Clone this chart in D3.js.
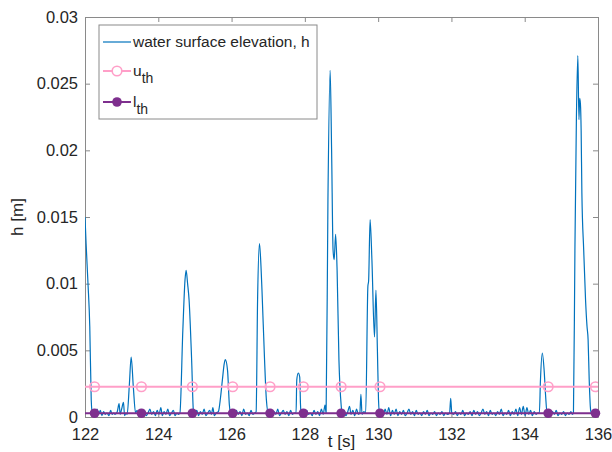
<!DOCTYPE html>
<html>
<head>
<meta charset="utf-8">
<script src="https://cdn.jsdelivr.net/npm/d3@7"></script>
<style>
  body { margin: 0; background: #fff; }
  text { font-family: Arial, "Liberation Sans", sans-serif; fill: #262626; }
</style>
</head>
<body>
<div id="chart"></div>
<script>
// water surface elevation h(t)
const timeS = [
  122.00, 122.03, 122.08, 122.13, 122.17, 122.20, 122.25, 122.29, 122.33, 122.37,
  122.42, 122.46, 122.51, 122.55, 122.60, 122.65, 122.70, 122.74, 122.78, 122.82,
  122.88, 122.93, 122.96, 123.00, 123.05, 123.08, 123.12, 123.15, 123.21, 123.26,
  123.32, 123.38, 123.42, 123.47, 123.52, 123.57, 123.62, 123.67, 123.72, 123.77,
  123.82, 123.87, 123.92, 123.97, 124.02, 124.07, 124.11, 124.16, 124.21, 124.26,
  124.31, 124.36, 124.41, 124.46, 124.51, 124.55, 124.59, 124.67, 124.73, 124.76,
  124.80, 124.84, 124.91, 124.96, 125.00, 125.05, 125.10, 125.15, 125.20, 125.25,
  125.30, 125.35, 125.40, 125.45, 125.49, 125.53, 125.58, 125.64, 125.70, 125.75,
  125.80, 125.83, 125.89, 125.94, 125.98, 126.03, 126.08, 126.13, 126.18, 126.23,
  126.28, 126.33, 126.38, 126.43, 126.48, 126.53, 126.58, 126.63, 126.67, 126.71,
  126.76, 126.79, 126.83, 126.90, 126.95, 127.01, 127.06, 127.11, 127.16, 127.21,
  127.26, 127.31, 127.36, 127.41, 127.46, 127.51, 127.56, 127.61, 127.66, 127.71,
  127.76, 127.78, 127.82, 127.86, 127.88, 127.90, 127.95, 128.00, 128.05, 128.10,
  128.15, 128.20, 128.25, 128.30, 128.35, 128.40, 128.45, 128.50, 128.55, 128.58,
  128.63, 128.69, 128.73, 128.77, 128.80, 128.84, 128.88, 128.93, 128.99, 129.02,
  129.07, 129.12, 129.17, 129.22, 129.26, 129.31, 129.36, 129.41, 129.46, 129.50,
  129.53, 129.56, 129.61, 129.66, 129.72, 129.74, 129.78, 129.83, 129.90, 129.94,
  129.98, 130.01, 130.04, 130.09, 130.14, 130.19, 130.24, 130.29, 130.34, 130.39,
  130.44, 130.49, 130.54, 130.59, 130.64, 130.69, 130.74, 130.79, 130.84, 130.89,
  130.94, 130.99, 131.04, 131.09, 131.14, 131.19, 131.24, 131.29, 131.34, 131.39,
  131.44, 131.49, 131.54, 131.59, 131.64, 131.69, 131.74, 131.79, 131.84, 131.89,
  131.95, 131.98, 132.01, 132.06, 132.11, 132.16, 132.21, 132.26, 132.31, 132.36,
  132.41, 132.46, 132.51, 132.56, 132.61, 132.66, 132.71, 132.76, 132.81, 132.86,
  132.91, 132.96, 133.01, 133.06, 133.11, 133.16, 133.21, 133.26, 133.31, 133.36,
  133.41, 133.46, 133.51, 133.56, 133.61, 133.66, 133.71, 133.76, 133.81, 133.86,
  133.91, 133.96, 134.01, 134.06, 134.11, 134.16, 134.21, 134.26, 134.31, 134.36,
  134.40, 134.43, 134.48, 134.53, 134.57, 134.61, 134.66, 134.71, 134.76, 134.81,
  134.86, 134.91, 134.96, 135.01, 135.06, 135.11, 135.16, 135.21, 135.26, 135.30,
  135.33, 135.37, 135.41, 135.45, 135.48, 135.50, 135.52, 135.54, 135.56, 135.61,
  135.66, 135.70, 135.73, 135.76, 135.80, 135.84, 135.88, 135.93, 135.97, 136.00
];
const hValues = [
  0.0150, 0.0130, 0.0101, 0.0068, 0.0013, 0.0002, 0.0004, 0.0001, 0.0006, 0.0002,
  0.0005, 0.0001, 0.0004, 0.0002, 0.0003, 0.0001, 0.0005, 0.0002, 0.0003, 0.0002,
  0.0004, 0.0010, 0.0002, 0.0006, 0.0011, 0.0001, 0.0003, 0.0002, 0.0024, 0.0045,
  0.0022, 0.0003, 0.0005, 0.0001, 0.0004, 0.0002, 0.0005, 0.0001, 0.0003, 0.0006,
  0.0002, 0.0004, 0.0001, 0.0005, 0.0002, 0.0007, 0.0001, 0.0004, 0.0002, 0.0006,
  0.0001, 0.0003, 0.0005, 0.0001, 0.0003, 0.0002, 0.0003, 0.0065, 0.0103, 0.0110,
  0.0100, 0.0088, 0.0043, 0.0004, 0.0002, 0.0005, 0.0001, 0.0004, 0.0002, 0.0006,
  0.0001, 0.0003, 0.0005, 0.0002, 0.0007, 0.0001, 0.0003, 0.0004, 0.0015, 0.0028,
  0.0040, 0.0043, 0.0035, 0.0009, 0.0002, 0.0004, 0.0001, 0.0005, 0.0002, 0.0004,
  0.0001, 0.0006, 0.0002, 0.0003, 0.0001, 0.0005, 0.0002, 0.0003, 0.0004, 0.0088,
  0.0130, 0.0120, 0.0095, 0.0043, 0.0013, 0.0002, 0.0005, 0.0001, 0.0004, 0.0002,
  0.0006, 0.0001, 0.0003, 0.0005, 0.0002, 0.0004, 0.0001, 0.0005, 0.0002, 0.0003,
  0.0003, 0.0028, 0.0033, 0.0030, 0.0010, 0.0002, 0.0004, 0.0001, 0.0005, 0.0002,
  0.0003, 0.0001, 0.0005, 0.0002, 0.0004, 0.0001, 0.0006, 0.0002, 0.0009, 0.0003,
  0.0163, 0.0260, 0.0200, 0.0125, 0.0118, 0.0137, 0.0110, 0.0043, 0.0009, 0.0002,
  0.0005, 0.0001, 0.0004, 0.0008, 0.0002, 0.0005, 0.0001, 0.0006, 0.0002, 0.0003,
  0.0017, 0.0002, 0.0004, 0.0003, 0.0098, 0.0102, 0.0148, 0.0118, 0.0060, 0.0095,
  0.0050, 0.0013, 0.0002, 0.0005, 0.0001, 0.0006, 0.0002, 0.0007, 0.0001, 0.0005,
  0.0002, 0.0006, 0.0001, 0.0004, 0.0002, 0.0005, 0.0001, 0.0003, 0.0006, 0.0002,
  0.0004, 0.0001, 0.0005, 0.0002, 0.0003, 0.0001, 0.0004, 0.0002, 0.0005, 0.0001,
  0.0003, 0.0002, 0.0004, 0.0001, 0.0003, 0.0002, 0.0004, 0.0001, 0.0003, 0.0002,
  0.0003, 0.0014, 0.0003, 0.0002, 0.0004, 0.0001, 0.0003, 0.0002, 0.0005, 0.0001,
  0.0003, 0.0002, 0.0004, 0.0001, 0.0005, 0.0002, 0.0004, 0.0001, 0.0003, 0.0006,
  0.0002, 0.0004, 0.0001, 0.0005, 0.0002, 0.0003, 0.0001, 0.0004, 0.0002, 0.0006,
  0.0001, 0.0003, 0.0002, 0.0005, 0.0001, 0.0004, 0.0002, 0.0006, 0.0001, 0.0007,
  0.0002, 0.0008, 0.0001, 0.0007, 0.0002, 0.0005, 0.0001, 0.0004, 0.0002, 0.0003,
  0.0003, 0.0028, 0.0048, 0.0035, 0.0016, 0.0003, 0.0005, 0.0001, 0.0004, 0.0002,
  0.0005, 0.0001, 0.0003, 0.0002, 0.0004, 0.0001, 0.0003, 0.0002, 0.0004, 0.0002,
  0.0003, 0.0125, 0.0223, 0.0271, 0.0223, 0.0239, 0.0235, 0.0215, 0.0168, 0.0125,
  0.0088, 0.0068, 0.0058, 0.0028, 0.0005, 0.0002, 0.0004, 0.0001, 0.0003, 0.0002
];

// thresholds and the times where their markers sit
const uTh = 0.00227;
const lTh = 0.00028;
const markerTimes = [122.26, 123.54, 124.93, 126.03, 127.05, 127.96, 128.99, 130.05, 134.64, 135.93];
const xTicks = [122, 124, 126, 128, 130, 132, 134, 136];
const yTicks = [0, 0.005, 0.01, 0.015, 0.02, 0.025, 0.03];
const yTickLabels = ["0", "0.005", "0.01", "0.015", "0.02", "0.025", "0.03"];

const margin = {top: 17, right: 14, bottom: 35, left: 85};
const width = 612 - margin.left - margin.right;
const height = 452 - margin.top - margin.bottom;

const svg = d3.select("#chart")
    .append("svg")
    .attr("width", width + margin.left + margin.right)
    .attr("height", height + margin.top + margin.bottom)
    .append("g")
    .attr("transform", `translate(${margin.left},${margin.top})`);

const x = d3.scaleLinear().domain([122, 136]).range([0, width]);
const y = d3.scaleLinear().domain([0, 0.03]).range([height, 0]);

const blue = "#0072BD", pink = "#FF9FC8", purple = "#7E2F8E";
const axisColor = "#8a8a8a";

svg.append("clipPath").attr("id", "clip")
    .append("rect").attr("width", width).attr("height", height);

// axes, ticks pointing inward on all four sides
const fontSize = "16.5px";
const axisB = svg.append("g")
    .attr("transform", `translate(0,${height})`)
    .call(d3.axisBottom(x).tickValues(xTicks).tickSize(-5).tickSizeOuter(0).tickPadding(11));
const axisL = svg.append("g")
    .call(d3.axisLeft(y).tickValues(yTicks).tickFormat((d, i) => yTickLabels[i])
        .tickSize(-5).tickSizeOuter(0).tickPadding(7));
const axisT = svg.append("g")
    .call(d3.axisTop(x).tickValues(xTicks).tickSize(-5).tickSizeOuter(0).tickFormat(""));
const axisR = svg.append("g")
    .attr("transform", `translate(${width},0)`)
    .call(d3.axisRight(y).tickValues(yTicks).tickSize(-5).tickSizeOuter(0).tickFormat(""));

[axisB, axisL, axisT, axisR].forEach(g => {
    g.selectAll("path, line").attr("stroke", axisColor);
    g.selectAll("text").attr("font-size", fontSize).attr("fill", "#262626")
        .attr("font-family", "Arial, 'Liberation Sans', sans-serif");
});

// axis labels
svg.append("text")
    .attr("x", width / 2)
    .attr("y", height + 30)
    .attr("text-anchor", "middle")
    .style("font-size", "17px")
    .text("t [s]");

svg.append("text")
    .attr("transform", `translate(${-62},${height / 2}) rotate(-90)`)
    .attr("text-anchor", "middle")
    .style("font-size", "17px")
    .text("h [m]");

// data
const plot = svg.append("g").attr("clip-path", "url(#clip)");

const hLine = d3.line().curve(d3.curveMonotoneX).x((d, i) => x(timeS[i])).y(d => y(d));
plot.append("path")
    .datum(hValues)
    .attr("fill", "none")
    .attr("stroke", blue)
    .attr("stroke-width", 1.2)
    .attr("stroke-linejoin", "round")
    .attr("d", hLine);

const flat = (level) => d3.line().x(d => x(d)).y(() => y(level));

plot.append("path")
    .datum([122, 136])
    .attr("fill", "none").attr("stroke", pink).attr("stroke-width", 2)
    .attr("d", flat(uTh));
plot.selectAll(".um").data(markerTimes).enter().append("circle")
    .attr("cx", d => x(d)).attr("cy", y(uTh)).attr("r", 4.8)
    .attr("fill", "none").attr("stroke", pink).attr("stroke-width", 1.6);

plot.append("path")
    .datum([122, 136])
    .attr("fill", "none").attr("stroke", purple).attr("stroke-width", 2)
    .attr("d", flat(lTh));
svg.selectAll(".lm").data(markerTimes).enter().append("circle")
    .attr("cx", d => x(d)).attr("cy", y(lTh)).attr("r", 4.8)
    .attr("fill", purple);

// Legend
const legend = svg.append("g").attr("transform", `translate(${99 - margin.left},${25 - margin.top})`);
legend.append("rect")
    .attr("width", 218).attr("height", 94)
    .attr("fill", "#fff").attr("stroke", axisColor).attr("stroke-width", 1);

const entries = [
    {name: "water surface elevation, h", sub: null, color: blue, marker: null, w: 1.2},
    {name: "u", sub: "th", color: pink, marker: "open", w: 2},
    {name: "l", sub: "th", color: purple, marker: "filled", w: 2}
];
const rowY = [17, 46, 77];

const items = legend.selectAll("g").data(entries).enter().append("g")
    .attr("transform", (d, i) => `translate(0,${rowY[i]})`);
items.append("line")
    .attr("x1", 4).attr("x2", 32)
    .attr("stroke", d => d.color).attr("stroke-width", d => d.w);
items.filter(d => d.marker === "open").append("circle")
    .attr("cx", 18).attr("r", 4.8).attr("fill", "#fff")
    .attr("stroke", d => d.color).attr("stroke-width", 1.6);
items.filter(d => d.marker === "filled").append("circle")
    .attr("cx", 18).attr("r", 4.8).attr("fill", d => d.color);

const labels = items.append("text")
    .attr("x", 34)
    .attr("y", 5)
    .style("font-size", "15.5px");
labels.append("tspan").text(d => d.name);
labels.filter(d => d.sub).append("tspan")
    .attr("dy", 7)
    .style("font-size", "14px")
    .text(d => d.sub);
</script>
</body>
</html>
